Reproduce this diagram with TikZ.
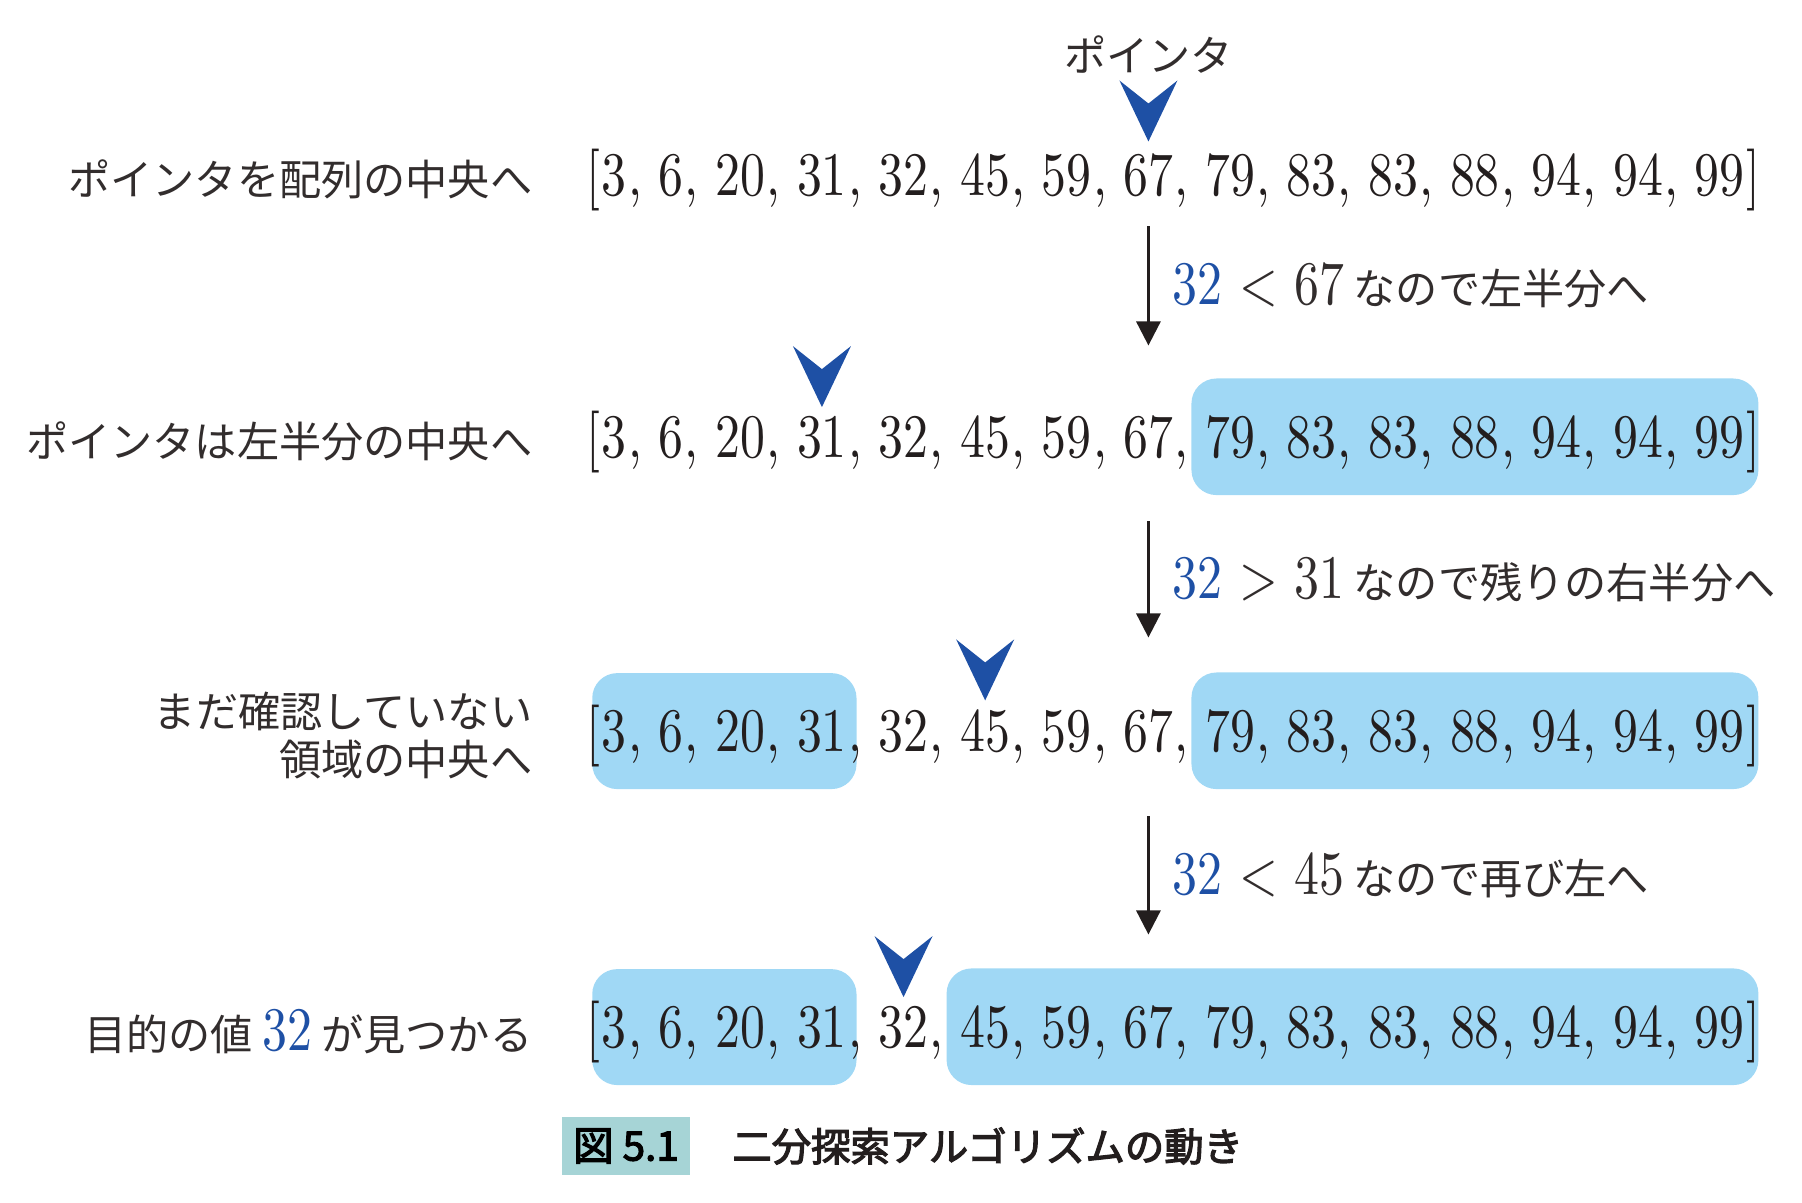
\documentclass[tikz,border=0pt]{standalone}
\usepackage{fontspec}
\setmainfont{Noto Sans CJK JP}
\newfontfamily\numfont{lmroman10-regular.otf}[FakeStretch=0.805]
\newfontfamily\capfont{Noto Sans CJK JP}[FakeBold=3]
\usetikzlibrary{positioning,fit,backgrounds,arrows.meta}

\definecolor{ptrblue}{RGB}{30,80,165}
\definecolor{hlblue}{RGB}{160,216,245}
\definecolor{capteal}{RGB}{166,212,214}
\definecolor{ink}{RGB}{35,30,30}
\definecolor{jpink}{RGB}{50,45,45}

\newcommand\nf[1]{{\numfont\fontsize{17.6}{20}\selectfont #1}}
\newcommand\hit[1]{\textcolor{ptrblue}{\nf{#1}}}
\newlength\numgap
\AtBeginDocument{\settowidth{\numgap}{\nf{,\ }}}

\tikzset{
  num/.style={inner sep=0pt, text=ink, font=\numfont\fontsize{17.6}{20}\selectfont},
  lbl/.style={inner sep=0pt, text=jpink, font=\fontsize{12}{13.9}\selectfont},
  hl/.style={fill=hlblue, rounded corners=2.5mm, inner xsep=1.3mm, inner ysep=3.6mm},
  hlleft/.style={hl, inner xsep=0.9mm},
  flow/.style={draw=ink, line width=0.28mm, -{Triangle[length=2.4mm,width=2.4mm]}},
  ptr/.pic={\fill[ptrblue] (0,0) -- (-29,-61) -- (0,-38) -- (29,-61) -- cycle;},
  capbox/.style={fill=capteal, minimum width=12.8mm, minimum height=5.8mm, inner sep=0pt,
    font=\capfont\fontsize{11.5}{13}\selectfont},
}

\begin{document}
\begin{tikzpicture}[x=0.1mm, y=-0.1mm]
  \useasboundingbox (0,0) rectangle (1802,1202);

  %--- the four arrays ---
  \foreach \row/\y in {1/195,2/457,3/751,4/1047} {
    \node[num, anchor=base west] (r\row-0) at (586,\y) {[};
    \node[num, base right=0pt of r\row-0] (r\row-1) {3};
    \foreach \v [count=\i from 2, remember=\i as \j (initially 1)] in {6,20,31,32,45,59,67,79,83,83,88,94,94,99}
      \node[num, base right=\numgap of r\row-\j] (r\row-\i) {\llap{\smash{,}\ }\v};
    \node[num, base right=0pt of r\row-15] (r\row-16) {]};
  }

  %--- parts already left out ---
  \begin{scope}[on background layer]
    \node[hl, fit=(r2-9)(r2-15)] (b2r) {};
    \node[hlleft, fit=(r3-1)(r3-4)] (b3l) {};
    \node[hl, fit=(r3-9)(r3-15)] (b3r) {};
    \node[hlleft, fit=(r4-1)(r4-4)] (b4l) {};
    \node[hl, fit=(r4-6)(r4-15)] (b4r) {};
  \end{scope}

  %--- pointers ---
  \pic at ([yshift=1.1mm]r1-8.north) {ptr};
  \pic at ([yshift=0.8mm]r2-4.north) {ptr};
  \pic at ([yshift=0.8mm]r3-6.north) {ptr};
  \pic at ([yshift=0.8mm]r4-5.north) {ptr};
  \node[lbl, above=7.8mm of r1-8] (ptrtext) {ポインタ};

  %--- row labels ---
  \node[lbl, left=5.3mm of r1-0] (l1) {ポインタを配列の中央へ};
  \node[lbl, left=5.3mm of r2-0] (l2) {ポインタは左半分の中央へ};
  \node[lbl, left=5.3mm of r3-0, align=right] (l3) {まだ確認していない\\領域の中央へ};
  \node[lbl, left=5.3mm of r4-0] (l4) {目的の値 \hit{32} が見つかる};

  %--- steps ---
  \draw[flow] ([yshift=-3.1mm]r1-8.base) -- node[lbl, right=2.3mm] (s1) {\hit{32}\nf{\ <\ 67} なので左半分へ} ([yshift=6.9mm]r2-8.north);
  \draw[flow] ([yshift=-6.4mm]r2-8.base) -- node[lbl, right=2.3mm] (s2) {\hit{32}\nf{\ >\ 31} なので残りの右半分へ} ([yshift=7.1mm]r3-8.north);
  \draw[flow] ([yshift=-6.5mm]r3-8.base) -- node[lbl, right=2.3mm] (s3) {\hit{32}\nf{\ <\ 45} なので再び左へ} ([yshift=7.0mm]r4-8.north);

  %--- caption ---
  \node[capbox] (fig) at (626,1146) {図 5.1};
  \node[lbl, text=ink, font=\capfont\fontsize{11.2}{13}\selectfont, right=4.1mm of fig] (title) {二分探索アルゴリズムの動き};
\end{tikzpicture}
\end{document}
